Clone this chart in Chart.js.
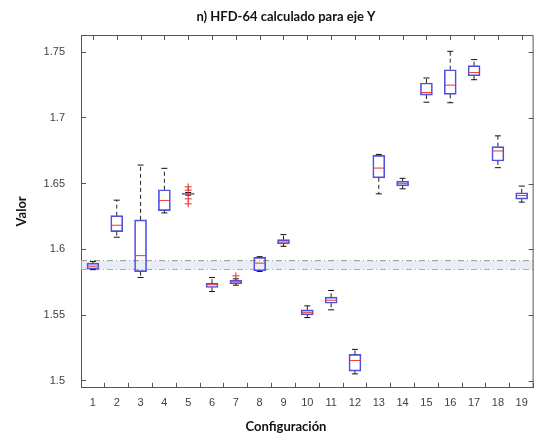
<!DOCTYPE html>
<html>
<head>
<meta charset="utf-8">
<script src="https://cdn.jsdelivr.net/npm/chart.js@4.4.0/dist/chart.umd.min.js"></script>
<style>
  html, body { margin: 0; padding: 0; background: #fff; }
  #wrap { width: 542px; height: 439px; }
</style>
</head>
<body>
<div id="wrap"><canvas id="myChart" width="542" height="439"></canvas></div>
<script>
// box plot values per configuration
const configs = [1, 2, 3, 4, 5, 6, 7, 8, 9, 10, 11, 12, 13, 14, 15, 16, 17, 18, 19];
const maxs    = [1.5908, 1.6374, 1.6641, 1.6616, 1.6432, 1.5786, 1.5776, 1.5944, 1.6112, 1.5570, 1.5687, 1.5239, 1.6722, 1.6540, 1.7303, 1.7506, 1.7443, 1.6863, 1.6481];
const q3s     = [1.5895, 1.6256, 1.6224, 1.6453, 1.6427, 1.5743, 1.5766, 1.5939, 1.6074, 1.5540, 1.5636, 1.5201, 1.6714, 1.6519, 1.7265, 1.7366, 1.7397, 1.6781, 1.6430];
const medians = [1.5872, 1.6183, 1.5952, 1.6372, 1.6422, 1.5731, 1.5753, 1.5895, 1.6056, 1.5521, 1.5613, 1.5155, 1.6618, 1.6502, 1.7193, 1.7249, 1.7344, 1.6748, 1.6410];
const q1s     = [1.5850, 1.6135, 1.5830, 1.6295, 1.6417, 1.5710, 1.5738, 1.5837, 1.6041, 1.5501, 1.5590, 1.5074, 1.6544, 1.6483, 1.7173, 1.7178, 1.7320, 1.6672, 1.6382];
const mins    = [1.5845, 1.6092, 1.5786, 1.6277, 1.6412, 1.5679, 1.5727, 1.5832, 1.6023, 1.5481, 1.5540, 1.5053, 1.6422, 1.6460, 1.7119, 1.7115, 1.7290, 1.6621, 1.6359];
const outlierX = [5, 5, 5, 5, 7];
const outlierY = [1.6475, 1.6450, 1.6384, 1.6346, 1.5798];
const bandLow = 1.5847;
const bandHigh = 1.5914;
const yTicks = [1.5, 1.55, 1.6, 1.65, 1.7, 1.75];
const yTickLabels = ['1.5', '1.55', '1.6', '1.65', '1.7', '1.75'];

const boxColor = 'rgb(80,80,225)';
const medColor = 'rgb(235,55,45)';
const axisColor = '#555';
const tickFont = { family: "'Liberation Sans', Arial, sans-serif", size: 11 };

// build datasets from the arrays
const boxData = configs.map((c, i) => ({ x: c, y: [q1s[i], q3s[i]] }));
const whiskerData = [];
configs.forEach((c, i) => {
    whiskerData.push({ x: c, y: q3s[i] }, { x: c, y: maxs[i] }, { x: c, y: null });
    whiskerData.push({ x: c, y: q1s[i] }, { x: c, y: mins[i] }, { x: c, y: null });
});
const capData = configs.map((c, i) => ({ x: c, y: maxs[i] }))
    .concat(configs.map((c, i) => ({ x: c, y: mins[i] })));
const medData = configs.map((c, i) => ({ x: c, y: medians[i] }));
const outData = outlierX.map((c, i) => ({ x: c, y: outlierY[i] }));

// top/right frame with mirrored ticks, plus title and x label
const framePlugin = {
    id: 'frame',
    afterDraw(chart) {
        const { ctx, chartArea: a, scales } = chart;
        ctx.save();
        ctx.strokeStyle = axisColor;
        ctx.lineWidth = 1;
        ctx.beginPath();
        ctx.moveTo(a.left, a.top + 0.5);
        ctx.lineTo(a.right - 0.5, a.top + 0.5);
        ctx.lineTo(a.right - 0.5, a.bottom);
        configs.forEach(c => {
            const px = Math.round(scales.x.getPixelForValue(c)) + 0.5;
            ctx.moveTo(px, a.top);
            ctx.lineTo(px, a.top + 5);
        });
        yTicks.forEach(v => {
            const py = Math.round(scales.y.getPixelForValue(v)) + 0.5;
            ctx.moveTo(a.right, py);
            ctx.lineTo(a.right - 5, py);
        });
        ctx.stroke();
        ctx.fillStyle = '#111';
        ctx.textAlign = 'center';
        ctx.textBaseline = 'alphabetic';
        ctx.font = 'bold 13px Lato, sans-serif';
        ctx.fillText('n) HFD-64 calculado para eje Y', 286, 20.5);
        ctx.fillText('Configuración', 286, 431);
        ctx.restore();
    }
};

const ctx = document.getElementById('myChart').getContext('2d');
const chart = new Chart(ctx, {
    type: 'scatter',
    data: {
        datasets: [
            {
                type: 'line',
                data: [{ x: 0.5, y: bandHigh }, { x: 19.5, y: bandHigh }],
                fill: '+1',
                backgroundColor: 'rgba(214,222,242,0.55)',
                borderColor: '#8f9c82',
                borderWidth: 1,
                borderDash: [6, 3, 1, 3],
                pointRadius: 0,
                order: 10
            },
            {
                type: 'line',
                data: [{ x: 0.5, y: bandLow }, { x: 19.5, y: bandLow }],
                fill: false,
                borderColor: '#8f9c82',
                borderWidth: 1,
                borderDash: [6, 3, 1, 3],
                pointRadius: 0,
                order: 10
            },
            {
                type: 'bar',
                data: boxData,
                backgroundColor: 'rgba(0,0,0,0)',
                borderColor: boxColor,
                borderWidth: 1,
                borderSkipped: false,
                barThickness: 12,
                order: 5
            },
            {
                type: 'line',
                data: whiskerData,
                showLine: true,
                spanGaps: false,
                borderColor: '#222',
                borderWidth: 1,
                borderDash: [4, 3],
                pointRadius: 0,
                fill: false,
                order: 4
            },
            {
                data: capData,
                pointStyle: 'line',
                pointRadius: 3,
                borderColor: '#111',
                borderWidth: 1,
                order: 3
            },
            {
                data: medData,
                pointStyle: 'line',
                pointRadius: 5.5,
                borderColor: medColor,
                borderWidth: 1,
                order: 2
            },
            {
                data: outData,
                pointStyle: 'cross',
                pointRadius: 3.5,
                borderColor: 'rgb(240,40,40)',
                borderWidth: 1,
                order: 1
            }
        ]
    },
    options: {
        responsive: false,
        animation: false,
        events: [],
        layout: { padding: { top: 35, right: 4, bottom: 15, left: 10 } },
        plugins: {
            legend: { display: false },
            tooltip: { enabled: false },
            title: { display: false }
        },
        scales: {
            x: {
                type: 'linear',
                min: 0.5,
                max: 19.5,
                offset: false,
                afterBuildTicks: s => { s.ticks = configs.map(v => ({ value: v })); },
                ticks: { font: tickFont, color: '#404040', padding: 14, autoSkip: false, maxRotation: 0, callback: v => String(v) },
                grid: { drawOnChartArea: false, tickLength: -5, tickColor: axisColor },
                border: { color: axisColor, width: 1 }
            },
            y: {
                type: 'linear',
                min: 1.4947,
                max: 1.763,
                beginAtZero: false,
                afterBuildTicks: s => { s.ticks = yTicks.map(v => ({ value: v })); },
                ticks: { font: tickFont, color: '#404040', padding: 21, callback: (v, i) => yTickLabels[i] },
                grid: { drawOnChartArea: false, tickLength: -5, tickColor: axisColor },
                border: { color: axisColor, width: 1 },
                title: { display: true, text: 'Valor', color: '#111', font: { family: 'Lato, sans-serif', size: 13, weight: 'bold' }, padding: { top: 4, bottom: -7 } }
            }
        }
    },
    plugins: [framePlugin]
});
</script>
</body>
</html>
